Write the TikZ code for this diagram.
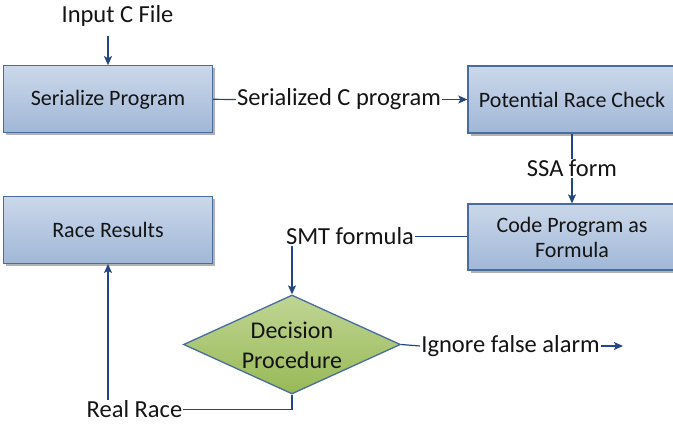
\documentclass[tikz,border=0pt]{standalone}
\usepackage{fontspec}
\setmainfont{Carlito}
\usetikzlibrary{arrows.meta,shadows,shapes.geometric}
\definecolor{boxtop}{RGB}{203,216,234}
\definecolor{boxbot}{RGB}{160,183,215}
\definecolor{boxline}{RGB}{72,108,158}
\definecolor{conn}{RGB}{36,70,130}
\definecolor{grtop}{RGB}{192,213,148}
\definecolor{grbot}{RGB}{152,185,86}
\definecolor{txt}{RGB}{20,20,20}
\tikzset{
  procbox/.style={rectangle, draw=boxline, line width=1.3pt, top color=boxtop, bottom color=boxbot,
    drop shadow={shadow xshift=2.5pt, shadow yshift=-2.5pt, fill=black!55, opacity=0.55},
    inner sep=0pt, text=txt, font=\fontsize{22}{25}\selectfont, align=center},
  lbl/.style={inner sep=1pt, text=txt, font=\fontsize{24.5}{29}\selectfont},
  conline/.style={draw=conn, line width=1.2pt},
  conarrow/.style={draw=conn, line width=1.2pt, -{Stealth[length=9pt,width=8pt,inset=2pt]}},
}
\begin{document}
\begin{tikzpicture}[x=1pt,y=-1pt]
\useasboundingbox (0,0) rectangle (673,424);

% boxes
\node[procbox, minimum width=209pt, minimum height=67pt] (ser) at (108,99.3) {Serialize Program};
\node[procbox, minimum width=208pt, minimum height=67pt] (pot) at (572,99.5) {Potential Race Check};
\node[procbox, minimum width=208pt, minimum height=66pt] (code) at (572,237) {Code Program as\\Formula};
\node[procbox, minimum width=209pt, minimum height=66.5pt] (res) at (108,230) {Race Results};

% diamond
\node[diamond, draw=boxline, line width=1.3pt, top color=grtop, bottom color=grbot,
      inner sep=0pt, minimum width=217pt, minimum height=99pt] (dec) at (292,344.5) {};
\node[text=txt, font=\fontsize{24}{30}\selectfont, align=center, inner sep=0pt] (dectext) at (292,345) {Decision\\Procedure};

% labels
\node[lbl] (inp) at (117.5,16) {Input C File};
\node[lbl] (scp) at (339,99.5) {Serialized C program};
\node[lbl] (ssa) at (572,168.5) {SSA form};
\node[lbl] (smt) at (350,236.5) {SMT formula};
\node[lbl] (ign) at (510.5,346) {Ignore false alarm};
\node[lbl] (rr) at (134.5,409.5) {Real Race};

\coordinate (instart) at (108,36);
\coordinate (ignend) at (623,346);

% connectors
\draw[conarrow] (instart) -- (ser.north);
\draw[conline] (ser.east) -- (scp.west);
\draw[conarrow] (scp.east) -- (pot.west);
\draw[conline] (pot.south) -- (ssa.north);
\draw[conarrow] (ssa.south) -- (code.north);
\draw[conline] (code.west |- smt.east) -- (smt.east);
\draw[conarrow] (smt.south -| dec.north) -- (dec.north);
\draw[conline] (dec.east) -- (ign.west);
\draw[conarrow] (ign.east) -- (ignend);
\draw[conline] (dec.south) |- (rr.east);
\draw[conarrow] (rr.north -| res.south) -- (res.south);
\end{tikzpicture}
\end{document}
